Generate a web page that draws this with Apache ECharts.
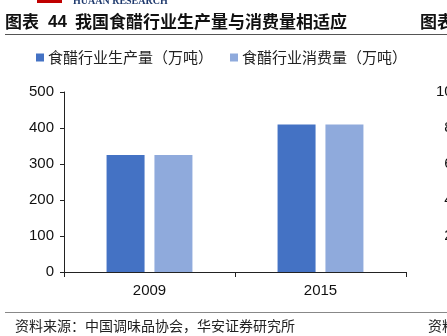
<!DOCTYPE html>
<html><head><meta charset="utf-8">
<script src="https://cdn.jsdelivr.net/npm/echarts@6/dist/echarts.min.js"></script>
<style>html,body{margin:0;padding:0;background:#fff}#c{width:447px;height:336px}</style>
</head><body><div id="c"></div>
<script>
const categories = ['2009', '2015'];
const production = [325, 410];
const consumption = [325, 410];
const seriesNames = ['食醋行业生产量（万吨）', '食醋行业消费量（万吨）'];
const yTicks = [0, 100, 200, 300, 400, 500];
const rightTicks = ['0', '20', '40', '60', '80', '100'];

const chart = echarts.init(document.getElementById('c'), null, {renderer: 'canvas'});
const cjk = '"Noto Sans CJK SC", sans-serif';
const graphics = [
  {type: 'rect', shape: {x: 37, y: -4, width: 25, height: 7}, style: {fill: '#c00000'}},
  {type: 'text', style: {x: 73, y: -4, text: 'HUAAN RESEARCH', font: 'bold 10px "Liberation Serif", serif', fill: '#1f3a6e'}},
  {type: 'text', style: {x: 5, y: 22, text: '图表', font: 'bold 17px ' + cjk, fill: '#111', verticalAlign: 'middle'}},
  {type: 'text', style: {x: 48, y: 22, text: '44', font: 'bold 17px "Liberation Sans", sans-serif', fill: '#111', verticalAlign: 'middle'}},
  {type: 'text', style: {x: 75, y: 22, text: '我国食醋行业生产量与消费量相适应', font: 'bold 17px ' + cjk, fill: '#111', verticalAlign: 'middle'}},
  {type: 'text', style: {x: 420, y: 22, text: '图表', font: 'bold 17px ' + cjk, fill: '#111', verticalAlign: 'middle'}},
  {type: 'line', shape: {x1: 5, y1: 34.5, x2: 447, y2: 34.5}, style: {stroke: '#555', lineWidth: 1}},
  {type: 'line', shape: {x1: 5, y1: 312.5, x2: 447, y2: 312.5}, style: {stroke: '#888', lineWidth: 1}},
  {type: 'text', style: {x: 15, y: 326, text: '资料来源：中国调味品协会，华安证券研究所', font: '14px ' + cjk, fill: '#222', verticalAlign: 'middle'}},
  {type: 'text', style: {x: 428, y: 326, text: '资料', font: '14px ' + cjk, fill: '#222', verticalAlign: 'middle'}}
];
rightTicks.forEach((t, i) => {
  graphics.push({type: 'text', style: {x: 461, y: 272 - i * 36, text: t, font: '15px "Liberation Sans", sans-serif', fill: '#111', align: 'right', verticalAlign: 'middle'}});
});

chart.setOption({
  animation: false,
  textStyle: {fontFamily: '"Liberation Sans", sans-serif'},
  graphic: graphics,
  legend: {
    left: 36, top: 50, padding: 0,
    icon: 'rect', itemWidth: 8, itemHeight: 8, itemGap: 17,
    textStyle: {fontFamily: cjk, fontSize: 15, color: '#222', padding: [0, 0, 0, -1]},
    data: seriesNames
  },
  grid: {left: 64, right: 41, top: 92, bottom: 64},
  xAxis: {
    type: 'category', data: categories,
    axisLine: {lineStyle: {color: '#222', width: 1}},
    axisTick: {show: true, length: 5, lineStyle: {color: '#222'}},
    axisLabel: {fontSize: 15, color: '#111', margin: 11}
  },
  yAxis: {
    type: 'value', min: 0, max: 500, interval: 100,
    axisLine: {show: true, lineStyle: {color: '#222', width: 1}},
    axisTick: {show: true, length: 4, lineStyle: {color: '#222'}},
    splitLine: {show: false},
    axisLabel: {fontSize: 15, color: '#111', margin: 10, formatter: v => yTicks.includes(v) ? String(v) : ''}
  },
  series: [
    {name: seriesNames[0], type: 'bar', data: production, barWidth: 38, barGap: '26%', itemStyle: {color: '#4472C4'}},
    {name: seriesNames[1], type: 'bar', data: consumption, barWidth: 38, itemStyle: {color: '#8FAADC'}}
  ]
});
</script></body></html>
